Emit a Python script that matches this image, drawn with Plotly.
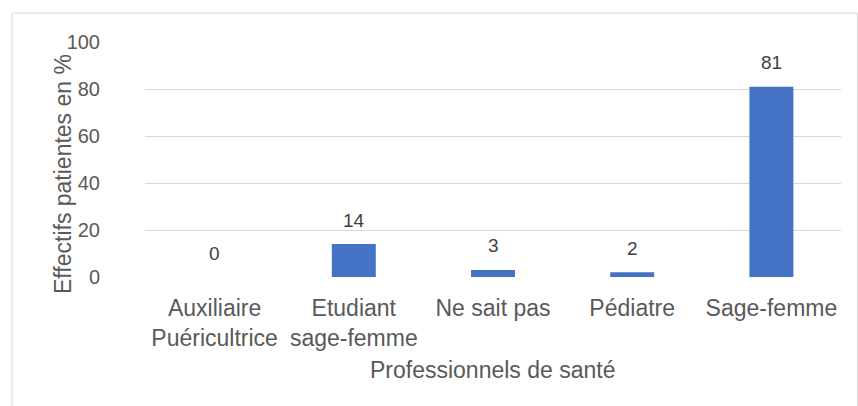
import plotly.graph_objects as go

categories = ["Auxiliaire<br>Puéricultrice", "Etudiant<br>sage-femme", "Ne sait pas", "Pédiatre", "Sage-femme"]
values = [0, 14, 3, 2, 81]
y_ticks = [0, 20, 40, 60, 80, 100]
x_title = "Professionnels de santé"
y_title = "Effectifs patientes en %"

FONT = "Liberation Sans, Arial, sans-serif"
W, H = 858, 406
L, R, T, B = 145, 17, 42, 129
pw, ph = W - L - R, H - T - B

def px_x(x):
    return (x - L) / pw

def px_y(y):
    return (H - B - y) / ph

fig = go.Figure()
fig.add_trace(go.Bar(
    x=categories, y=values,
    marker=dict(color="#4472C4", line=dict(width=0)),
    hoverinfo="skip",
))

for c, v in zip(categories, values):
    fig.add_annotation(
        x=c, y=v, xref="x", yref="y", text=str(v), showarrow=False,
        yanchor="middle", yshift=24,
        font=dict(family=FONT, size=19, color="#404040"),
    )

fig.add_annotation(
    x=px_x(63), y=px_y(174), xref="paper", yref="paper", text=y_title,
    textangle=-90, showarrow=False, xanchor="center", yanchor="middle",
    font=dict(family=FONT, size=23, color="#595959"),
)
fig.add_annotation(
    x=0.5, y=px_y(370), xref="paper", yref="paper", text=x_title,
    showarrow=False, xanchor="center", yanchor="middle",
    font=dict(family=FONT, size=23, color="#595959"),
)

fig.add_shape(
    type="rect", xref="paper", yref="paper",
    x0=px_x(12), x1=px_x(857.5), y0=px_y(415), y1=px_y(13),
    line=dict(color="#d9d9d9", width=1), fillcolor="rgba(0,0,0,0)", layer="below",
)

fig.update_layout(
    width=W, height=H,
    margin=dict(l=L, r=R, t=T, b=B, autoexpand=False),
    paper_bgcolor="white", plot_bgcolor="white",
    bargap=0.684, showlegend=False,
    font=dict(family=FONT, color="#595959"),
)
fig.update_xaxes(
    showgrid=False, showline=False, zeroline=False, ticks="",
    tickfont=dict(family=FONT, size=23, color="#595959"),
    ticklabelstandoff=15,
)
fig.update_yaxes(
    range=[0, 100], tickvals=y_ticks, showgrid=True, gridcolor="#d9d9d9",
    gridwidth=1.3, zeroline=False, showline=False, ticks="",
    tickfont=dict(family=FONT, size=20, color="#595959"),
    ticklabelstandoff=44,
)

fig.write_html(
    "out.html",
    config={"displayModeBar": False},
    post_script="document.body.style.margin='0';document.body.style.overflow='hidden';",
)
